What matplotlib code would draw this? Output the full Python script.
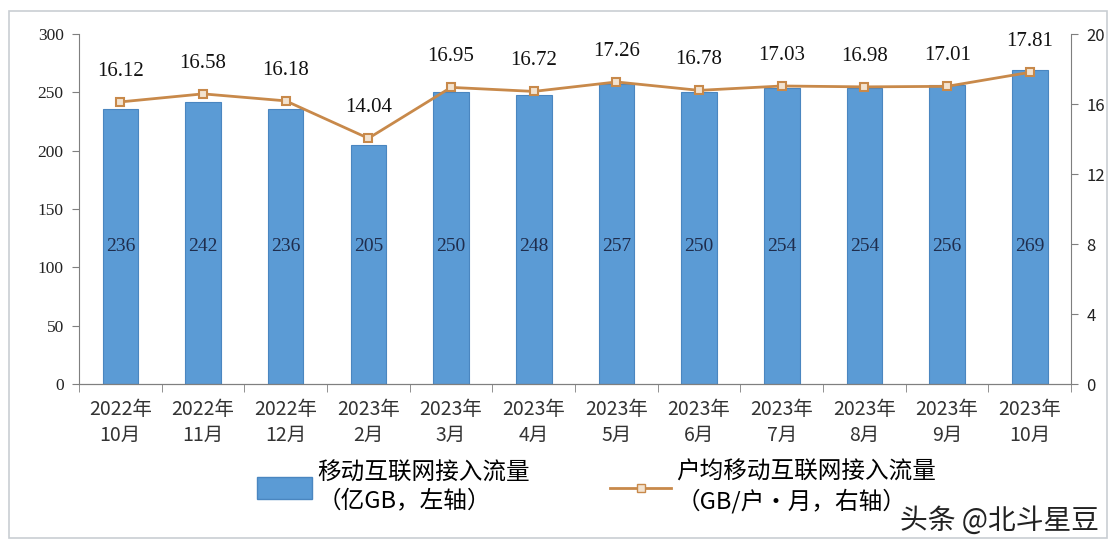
import matplotlib.pyplot as plt
import numpy as np
from matplotlib.lines import Line2D
from matplotlib.patches import Patch, Rectangle

plt.rcParams['font.family'] = ['Liberation Serif', 'Noto Sans CJK SC', 'DejaVu Sans']

# Data
categories = ["2022年\n10月", "2022年\n11月", "2022年\n12月", "2023年\n2月", "2023年\n3月",
              "2023年\n4月", "2023年\n5月", "2023年\n6月", "2023年\n7月", "2023年\n8月",
              "2023年\n9月", "2023年\n10月"]
traffic = [236, 242, 236, 205, 250, 248, 257, 250, 254, 254, 256, 269]
per_user = [16.12, 16.58, 16.18, 14.04, 16.95, 16.72, 17.26, 16.78, 17.03, 16.98, 17.01, 17.81]

bar_color = "#5B9BD5"
line_color = "#C8894A"
axis_color = "#7F7F7F"
cjk = ["Noto Sans CJK SC", "DejaVu Sans"]

fig = plt.figure(figsize=(11.16, 5.46), dpi=100)
fig.patches.append(Rectangle((0.008, 0.015), 0.984, 0.965, transform=fig.transFigure,
                             fill=False, edgecolor="#C9CED3", linewidth=1.2))

ax = fig.add_axes([0.0708, 0.2967, 0.889, 0.641])
ax2 = ax.twinx()

x = np.arange(len(categories))
ax.bar(x, traffic, width=0.43, color=bar_color, edgecolor="#4A86C0", linewidth=0.8, zorder=2)
ax.set_xlim(-0.5, len(categories) - 0.5)
ax.set_ylim(0, 300)
ax.set_yticks(range(0, 301, 50))
ax2.set_ylim(0, 20)
ax2.set_yticks(range(0, 21, 4))

for xi, v in zip(x, traffic):
    ax.text(xi, 118, str(v), ha="center", va="center", fontsize=14, color="#1F2D4D", zorder=3)

ax2.plot(x, per_user, color=line_color, linewidth=2, marker="s", markersize=6,
         markerfacecolor="#F3E3D0", markeredgecolor=line_color, markeredgewidth=1.5, zorder=4)
for xi, v in zip(x, per_user):
    ax2.annotate(f"{v:.2f}", (xi, v), xytext=(0, 22), textcoords="offset points",
                 ha="center", va="center", fontsize=15, color="#111111")

# Axes styling
for a in (ax, ax2):
    a.spines["top"].set_visible(False)
    for s in ("left", "right", "bottom"):
        a.spines[s].set_color(axis_color)
ax.spines["right"].set_visible(False)
ax2.spines["left"].set_visible(False)

ax.tick_params(axis="y", colors="#222222", labelsize=12.5, length=5, color=axis_color, pad=6)
ax2.tick_params(axis="y", colors="#222222", labelsize=12, length=5, color=axis_color, pad=6)
for t in ax2.get_yticklabels():
    t.set_family(cjk)

ax.set_xticks(x)
ax.set_xticklabels(categories, fontsize=14, color="#333333", family=cjk, linespacing=1.3)
ax.tick_params(axis="x", length=0, pad=11)
ax.set_xticks(np.arange(-0.5, len(categories), 1), minor=True)
ax.tick_params(axis="x", which="minor", length=6, color=axis_color)

# Legend
leg1 = fig.legend(handles=[Patch(facecolor=bar_color, edgecolor="#4A86C0")],
                  labels=["移动互联网接入流量\n（亿GB，左轴）"],
                  loc="center left", bbox_to_anchor=(0.2115, 0.108), frameon=False,
                  handlelength=2.3, handleheight=1.0, handletextpad=0.25,
                  prop={"family": cjk, "size": 17})
leg2 = fig.legend(handles=[Line2D([0], [0], color=line_color, linewidth=2, marker="s", markersize=6,
                                  markerfacecolor="#F3E3D0", markeredgecolor=line_color)],
                  labels=["户均移动互联网接入流量\n（GB/户·月，右轴）"],
                  loc="center left", bbox_to_anchor=(0.528, 0.108), frameon=False,
                  handlelength=2.55, handletextpad=0.25,
                  prop={"family": cjk, "size": 17})
for leg in (leg1, leg2):
    for t in leg.get_texts():
        t.set_linespacing(1.25)

fig.text(0.985, 0.047, "头条 @北斗星豆", ha="right", va="center", fontsize=20,
         color="#222222", family=cjk)

fig.savefig("out.png", dpi=100)
